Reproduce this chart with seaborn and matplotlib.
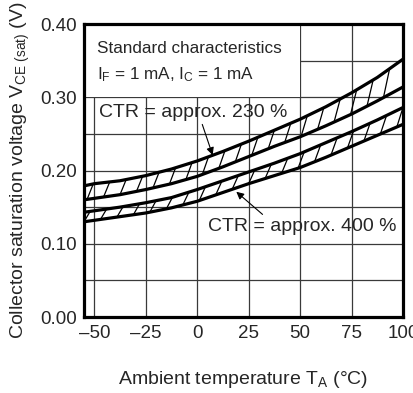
import numpy as np
import pandas as pd
import matplotlib
matplotlib.use("Agg")
import matplotlib.pyplot as plt
from matplotlib.collections import LineCollection
from matplotlib.patches import Rectangle
import seaborn as sns

# ---- data ----
temp = [-55, -50, -37.5, -25, -12.5, 0, 12.5, 25, 37.5, 50, 62.5, 75, 87.5, 100]
ctr230_upper = [0.179, 0.182, 0.186, 0.193, 0.202, 0.213, 0.226, 0.240, 0.255,
                0.270, 0.287, 0.306, 0.327, 0.352]
ctr230_lower = [0.160, 0.162, 0.167, 0.174, 0.182, 0.192, 0.205, 0.219, 0.233,
                0.246, 0.261, 0.277, 0.295, 0.314]
ctr400_upper = [0.143, 0.145, 0.150, 0.156, 0.163, 0.174, 0.186, 0.198, 0.210,
                0.223, 0.238, 0.253, 0.269, 0.286]
ctr400_lower = [0.130, 0.132, 0.137, 0.142, 0.149, 0.158, 0.170, 0.182, 0.193,
                0.204, 0.218, 0.233, 0.248, 0.263]

x_ticks = [-50, -25, 0, 25, 50, 75, 100]
x_tick_labels = ["\u201350", "\u201325", "0", "25", "50", "75", "100"]
y_ticks = [0.0, 0.1, 0.2, 0.3, 0.4]
y_tick_labels = ["0.00", "0.10", "0.20", "0.30", "0.40"]
y_minor = [0.05, 0.15, 0.25, 0.35]

sns.set_style("white")
plt.rcParams["font.family"] = ["Liberation Sans", "DejaVu Sans"]
plt.rcParams["mathtext.fontset"] = "custom"
plt.rcParams["mathtext.rm"] = "Liberation Sans"
plt.rcParams["mathtext.it"] = "Liberation Sans"
plt.rcParams["mathtext.default"] = "regular"

df = pd.DataFrame({
    "T": temp * 4,
    "V": ctr230_upper + ctr230_lower + ctr400_upper + ctr400_lower,
    "curve": (["230u"] * len(temp) + ["230l"] * len(temp)
              + ["400u"] * len(temp) + ["400l"] * len(temp)),
})

fig = plt.figure(figsize=(4.14, 3.93), dpi=100)
ax = fig.add_axes([84 / 414, 1 - 317 / 393, (403 - 84) / 414, (317 - 24) / 393])

ax.set_xlim(-55, 100)
ax.set_ylim(0, 0.40)

# grid
ax.set_axisbelow(True)
ax.set_xticks(x_ticks)
ax.set_xticklabels(x_tick_labels)
ax.set_yticks(y_ticks)
ax.set_yticklabels(y_tick_labels)
ax.set_yticks(y_minor, minor=True)
ax.grid(True, which="both", color="#3a3a3a", lw=0.9)
ax.tick_params(which="both", length=0)
ax.tick_params(axis="x", labelsize=13.5, pad=6)
ax.tick_params(axis="y", labelsize=13.5, pad=5)

# white panel hiding the grid behind the condition text
ax.add_patch(Rectangle((-55, 0.30), 105, 0.10, facecolor="white",
                       edgecolor="none", zorder=1))

# curves
for name in ["230u", "230l", "400u", "400l"]:
    sns.lineplot(data=df[df["curve"] == name], x="T", y="V", color="black",
                 lw=2.3, ax=ax, estimator=None, sort=True, zorder=3)

# hatching between the curves of each band
def hatch(upper, lower, start, step=8.0, dx=3.0):
    segs = []
    xs = np.arange(start, 100 - dx + 0.1, step)
    for x0 in xs:
        y0 = np.interp(x0, temp, lower)
        y1 = np.interp(x0 + dx, temp, upper)
        segs.append([(x0, y0), (x0 + dx, y1)])
    ax.add_collection(LineCollection(segs, colors="black", lw=0.9, zorder=2))

hatch(ctr230_upper, ctr230_lower, -53.5)
hatch(ctr400_upper, ctr400_lower, -55.0)

# texts
ax.text(-48.7, 0.366, "Standard characteristics", fontsize=12.3,
        va="center", ha="left", zorder=4)
ax.text(-48.7, 0.331, r"I$_{F}$ = 1 mA, I$_{C}$ = 1 mA", fontsize=12.3,
        va="center", ha="left", zorder=4)

ax.annotate("CTR = approx. 230 %", xy=(7.5, 0.221), xytext=(-47.5, 0.279),
            fontsize=14, va="center", ha="left", zorder=4,
            arrowprops=dict(arrowstyle="-|>", color="black", lw=0.8,
                            mutation_scale=11, shrinkA=0, shrinkB=0,
                            relpos=(0.54, 0.0)))
ax.annotate("CTR = approx. 400 %", xy=(19, 0.171), xytext=(5.2, 0.124),
            fontsize=14, va="center", ha="left", zorder=4,
            arrowprops=dict(arrowstyle="-|>", color="black", lw=0.8,
                            mutation_scale=11, shrinkA=0, shrinkB=0,
                            relpos=(0.31, 1.0)))

ax.set_xlabel(r"Ambient temperature T$_{A}$ ($\degree$C)", fontsize=14, labelpad=19)
ax.set_ylabel(r"Collector saturation voltage V$_{CE\ (sat)}$ (V)", fontsize=14, labelpad=6)

for s in ax.spines.values():
    s.set_visible(True)
    s.set_linewidth(2.3)
    s.set_color("black")
    s.set_zorder(5)

fig.savefig("out.png", dpi=100)
